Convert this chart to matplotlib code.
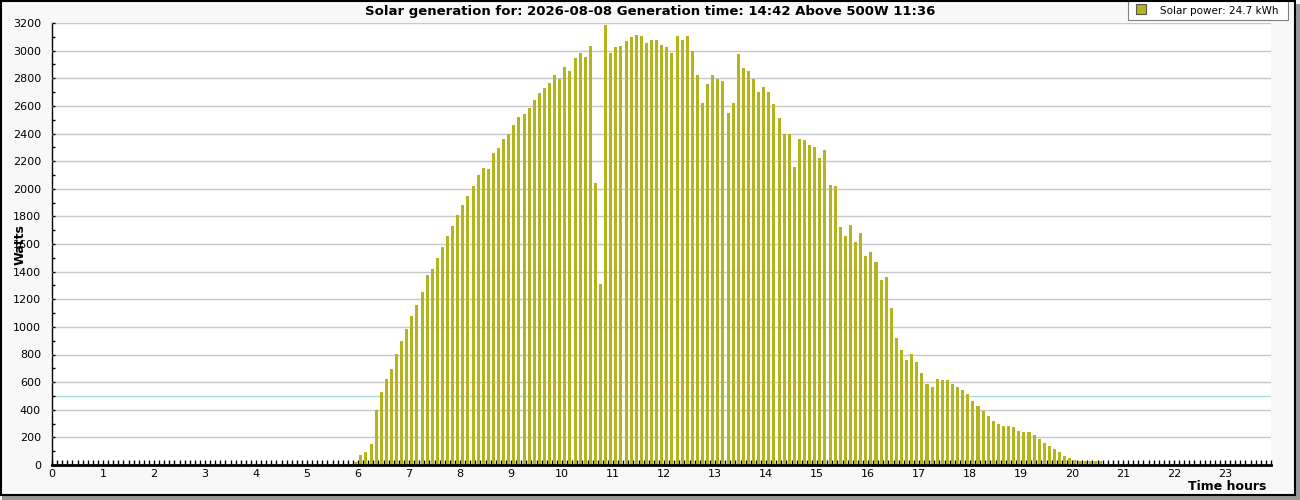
import numpy as np
import matplotlib
matplotlib.use("Agg")
import matplotlib.pyplot as plt
from matplotlib.patches import Rectangle
from matplotlib.ticker import MultipleLocator

# 6 minute slots, first generating slot is 5.9 h
first_slot = 59
slot_hours = 0.1
watts = [
    20, 75, 96, 152, 398, 528, 622, 694, 802, 897,
    983, 1077, 1157, 1251, 1374, 1417, 1497, 1576, 1656, 1728,
    1807, 1880, 1945, 2017, 2097, 2147, 2140, 2256, 2292, 2357,
    2393, 2458, 2516, 2538, 2581, 2646, 2690,
    2733, 2762, 2820, 2798, 2878, 2856, 2943, 2986, 2957, 3037,
    2039, 1309, 3188, 2986, 3029, 3037, 3073, 3102, 3116, 3109,
    3058, 3080, 3080, 3044, 3029, 2986, 3109, 3080, 3109, 3000,
    2820, 2624, 2755, 2820, 2798, 2783, 2552,
    2624, 2979, 2877, 2849, 2791, 2704, 2740, 2704, 2617, 2509,
    2393, 2393, 2155, 2357, 2350, 2314, 2299, 2220, 2277, 2024,
    2017, 1721, 1656, 1735, 1612, 1677, 1511, 1540, 1468, 1338,
    1359, 1135, 918, 831, 759, 803, 745,
    665, 586, 564, 622, 615, 615, 586, 564, 542, 513,
    463, 427, 390, 354, 318, 296, 282, 282, 275, 246,
    239, 239, 217, 188, 159, 137, 116, 94, 65, 51,
    36, 29, 29, 29, 29, 29,
]
hours = (first_slot + np.arange(len(watts))) * slot_hours

title = "Solar generation for: 2026-08-08 Generation time: 14:42 Above 500W 11:36"
legend_label = "Solar power: 24.7 kWh"
threshold = 500

bar_color = "#b4b41c"
W, H = 1300, 500

def fx(px):
    return px / W

def fy(py):
    # pixel from top -> figure fraction
    return 1 - py / H

fig = plt.figure(figsize=(13, 5), dpi=100, facecolor="#f8f8f8")
ax = fig.add_axes([fx(52), fy(465), fx(1271 - 52), (465 - 23) / H])
ax.set_facecolor("white")

ax.bar(hours + 0.025, watts, width=0.06, align="edge", color=bar_color, zorder=3)

ax.set_xlim(0, 23.9)
ax.set_ylim(0, 3200)
ax.xaxis.set_major_locator(MultipleLocator(1))
ax.xaxis.set_minor_locator(MultipleLocator(0.1))
ax.yaxis.set_major_locator(MultipleLocator(200))
ax.yaxis.set_minor_locator(MultipleLocator(100))
ax.grid(axis="y", which="major", color="#c8c8c8", linewidth=1, zorder=1)
ax.axhline(threshold, color="#a8d8e0", linewidth=1, zorder=2)

for s in ["top", "right"]:
    ax.spines[s].set_visible(False)
ax.spines["left"].set_linewidth(1)
ax.spines["bottom"].set_linewidth(2)
ax.spines["bottom"].set_zorder(5)

ax.tick_params(axis="x", which="both", direction="in", length=3.5, width=1, pad=3, labelsize=8)
ax.tick_params(axis="y", which="both", direction="in", length=2.5, width=1, pad=8, labelsize=8)
ax.set_axisbelow(False)

fig.text(0.5, fy(11), title, ha="center", va="center", fontsize=9.5, fontweight="bold")
fig.text(fx(20), fy(245), "Watts", rotation=90, ha="center", va="center", fontsize=9, fontweight="bold")
fig.text(fx(1227), fy(487), "Time hours", ha="center", va="center", fontsize=9, fontweight="bold")

# legend box
fig.add_artist(Rectangle((fx(1128), fy(20)), fx(160), 20 / H, transform=fig.transFigure,
                         facecolor="white", edgecolor="#808080", linewidth=0.8, zorder=8))
fig.add_artist(Rectangle((fx(1136), fy(14)), fx(10), 10 / H, transform=fig.transFigure,
                         facecolor=bar_color, edgecolor="#555555", linewidth=0.8, zorder=9))
fig.text(fx(1160), fy(10.5), legend_label, ha="left", va="center", fontsize=7.5, zorder=9)

# frame with shadow
fig.add_artist(Rectangle((fx(2), 0), fx(1298), 4 / H, transform=fig.transFigure,
                         facecolor="#999999", edgecolor="none", zorder=10))
fig.add_artist(Rectangle((fx(1296), 0), fx(4), 496 / H, transform=fig.transFigure,
                         facecolor="#999999", edgecolor="none", zorder=10))
fig.add_artist(Rectangle((fx(0.5), fy(494.5)), fx(1294), 494 / H, transform=fig.transFigure,
                         facecolor="none", edgecolor="black", linewidth=1.5, zorder=11))

fig.savefig("out.png", dpi=100, facecolor=fig.get_facecolor())
